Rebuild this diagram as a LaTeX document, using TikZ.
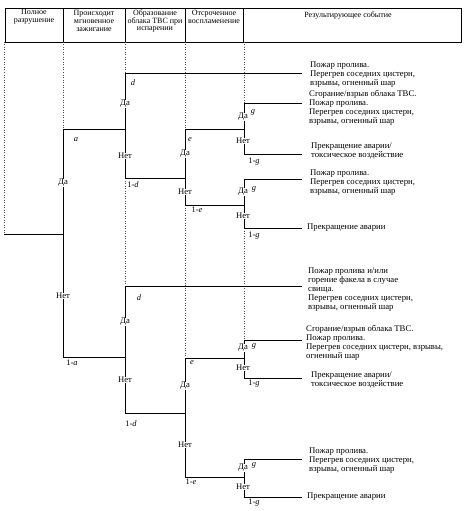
\documentclass[tikz,border=0pt]{standalone}
\usepackage{fontspec}
\setmainfont{Liberation Serif}
\begin{document}
\begin{tikzpicture}[x=1pt,y=-1pt,
  br/.style={line width=0.85pt},
  guide/.style={dotted, line width=0.5pt, black!70},
  lab/.style={font=\fontsize{8.4}{9}\selectfont, inner sep=0.5pt},
  yn/.style={font=\fontsize{8.6}{9}\selectfont, inner sep=0.6pt, fill=white},
  res/.style={font=\fontsize{8.7}{9}\selectfont, align=left, inner sep=0pt, anchor=north west},
  hd/.style={font=\fontsize{8}{7.8}\selectfont, align=center, inner sep=0pt}]
\useasboundingbox (0,0) rectangle (464,511);
% header
\draw[line width=0.6pt] (5,8) rectangle (461,42);
\foreach \x in {63,125,185,243} \draw[line width=0.6pt] (\x,8) -- (\x,42);
\node[hd] (h1) at (34,17) {Полное\\разрушение};
\node[hd] (h2) at (94,21) {Происходит\\мгновенное\\зажигание};
\node[hd] (h3) at (155,21) {Образование\\облака ТВС при\\испарении};
\node[hd] (h4) at (214,16.5) {Отсроченное\\воспламенение};
\node[hd] (h5) at (348,16) {Результирующее событие};
% guides
\draw[guide] (4,42) -- (4,234);
\draw[guide] (63,42) -- (63,129);
\draw[guide] (125,42) -- (125,73);
\draw[guide] (125,178) -- (125,286);
\draw[guide] (185,42) -- (185,129);
\draw[guide] (185,205) -- (185,358);
\draw[guide] (244,42) -- (244,103);
\draw[guide] (244,228) -- (244,340);
% coordinates
\coordinate (r) at (4,234);
\coordinate (ra) at (63,234);
\coordinate (at) at (63,129);
\coordinate (ab) at (63,357);
% top subtree
\coordinate (b1) at (125,129);
\coordinate (b1t) at (125,73);
\coordinate (b1b) at (125,178);
\coordinate (e1) at (302,73);
\coordinate (c1) at (185,178);
\coordinate (c1t) at (185,129);
\coordinate (c1b) at (185,205);
\coordinate (d1) at (244,129);
\coordinate (d1t) at (244,103);
\coordinate (d1b) at (244,154);
\coordinate (e2) at (302,103);
\coordinate (e3) at (302,154);
\coordinate (d2) at (244,205);
\coordinate (d2t) at (244,179);
\coordinate (d2b) at (244,228);
\coordinate (e4) at (302,179);
\coordinate (e5) at (302,228);
% bottom subtree
\coordinate (b2) at (125,357);
\coordinate (b2t) at (125,286);
\coordinate (b2b) at (125,413);
\coordinate (e6) at (302,286);
\coordinate (c2) at (185,413);
\coordinate (c2t) at (185,358);
\coordinate (c2b) at (185,477);
\coordinate (d3) at (244,358);
\coordinate (d3t) at (244,340);
\coordinate (d3b) at (244,378);
\coordinate (e7) at (302,340);
\coordinate (e8) at (302,378);
\coordinate (d4) at (244,477);
\coordinate (d4t) at (244,459);
\coordinate (d4b) at (244,497);
\coordinate (e9) at (302,459);
\coordinate (e10) at (302,497);
% branches
\draw[br] (r) -- (ra);
\draw[br] (at) -- (ab);
\draw[br] (at) -- (b1);
\draw[br] (b1t) -- (b1b);
\draw[br] (b1t) -- (e1);
\draw[br] (b1b) -- (c1);
\draw[br] (c1t) -- (c1b);
\draw[br] (c1t) -- (d1);
\draw[br] (d1t) -- (d1b);
\draw[br] (d1t) -- (e2);
\draw[br] (d1b) -- (e3);
\draw[br] (c1b) -- (d2);
\draw[br] (d2t) -- (d2b);
\draw[br] (d2t) -- (e4);
\draw[br] (d2b) -- (e5);
\draw[br] (ab) -- (b2);
\draw[br] (b2t) -- (b2b);
\draw[br] (b2t) -- (e6);
\draw[br] (b2b) -- (c2);
\draw[br] (c2t) -- (c2b);
\draw[br] (c2t) -- (d3);
\draw[br] (d3t) -- (d3b);
\draw[br] (d3t) -- (e7);
\draw[br] (d3b) -- (e8);
\draw[br] (c2b) -- (d4);
\draw[br] (d4t) -- (d4b);
\draw[br] (d4t) -- (e9);
\draw[br] (d4b) -- (e10);
% labels level a
\node[lab] (la) at (76,140) {\textit{a}};
\node[yn] (ya) at (63,183) {Да};
\node[yn] (na) at (63,296) {Нет};
\node[lab] (l1a) at (72,363) {1-\textit{a}};
% top d
\node[lab] (ld1) at (133,83) {\textit{d}};
\node[yn] (yd1) at (125,104) {Да};
\node[yn] (nd1) at (125,156) {Нет};
\node[lab] (l1d1) at (133,185) {1-\textit{d}};
\node[lab] (le1) at (190,140) {\textit{e}};
\node[yn] (ye1) at (185,154) {Да};
\node[yn] (ne1) at (185,192) {Нет};
\node[lab] (l1e1) at (197,210) {1-\textit{e}};
\node[yn] (yg1) at (243,117) {Да};
\node[lab] (lg1) at (253,112) {\textit{g}};
\node[yn] (ng1) at (243,141) {Нет};
\node[lab] (l1g1) at (254,162) {1-\textit{g}};
\node[yn] (yg2) at (243,192) {Да};
\node[lab] (lg2) at (254,189) {\textit{g}};
\node[yn] (ng2) at (243,216) {Нет};
\node[lab] (l1g2) at (254,236) {1-\textit{g}};
% bottom d
\node[lab] (ld2) at (139,298) {\textit{d}};
\node[yn] (yd2) at (125,322) {Да};
\node[yn] (nd2) at (125,380) {Нет};
\node[lab] (l1d2) at (131,424) {1-\textit{d}};
\node[lab] (le2) at (192,363) {\textit{e}};
\node[yn] (ye2) at (185,386) {Да};
\node[yn] (ne2) at (185,445) {Нет};
\node[lab] (l1e2) at (191,482) {1-\textit{e}};
\node[yn] (yg3) at (243,348) {Да};
\node[lab] (lg3) at (254,346) {\textit{g}};
\node[yn] (ng3) at (243,368) {Нет};
\node[lab] (l1g3) at (254,384) {1-\textit{g}};
\node[yn] (yg4) at (243,468) {Да};
\node[lab] (lg4) at (254,465) {\textit{g}};
\node[yn] (ng4) at (243,487) {Нет};
\node[lab] (l1g4) at (254,503) {1-\textit{g}};
% results
\node[res] (t1) at (310,62) {Пожар пролива.\\Перегрев соседних цистерн,\\взрывы, огненный шар};
\node[res] (t2) at (309,90) {Сгорание/взрыв облака ТВС.\\Пожар пролива.\\Перегрев соседних цистерн,\\взрывы, огненный шар};
\node[res] (t3) at (311,143) {Прекращение аварии/\\токсическое воздействие};
\node[res] (t4) at (310,170) {Пожар пролива.\\Перегрев соседних цистерн,\\взрывы, огненный шар};
\node[res, anchor=west] (t5) at (307,228) {Прекращение аварии};
\node[res] (t6) at (308,268) {Пожар пролива и/или\\горение факела в случае\\свища.\\Перегрев соседних цистерн,\\взрывы, огненный шар};
\node[res] (t7) at (306,325) {Сгорание/взрыв облака ТВС.\\Пожар пролива.\\Перегрев соседних цистерн, взрывы,\\огненный шар};
\node[res] (t8) at (311,372) {Прекращение аварии/\\токсическое воздействие};
\node[res] (t9) at (309,448) {Пожар пролива.\\Перегрев соседних цистерн,\\взрывы, огненный шар};
\node[res, anchor=west] (t10) at (307,497) {Прекращение аварии};
\end{tikzpicture}
\end{document}
